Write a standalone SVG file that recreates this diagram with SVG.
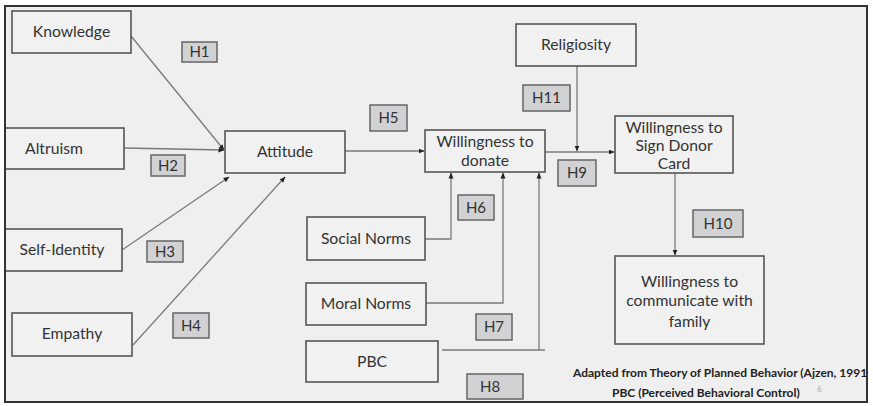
<svg xmlns="http://www.w3.org/2000/svg" width="873" height="406" viewBox="0 0 873 406">
<defs>
<style>
.bx{fill:#f1f1f1;stroke:#555;stroke-width:1.6}
.h{fill:#d2d2d4;stroke:#666;stroke-width:1.5}
.t{font-family:Lato,"Liberation Sans",sans-serif;font-size:15.7px;fill:#333;text-anchor:middle}
.ht{font-family:Lato,"Liberation Sans",sans-serif;font-size:15px;fill:#333;text-anchor:middle}
.ln{fill:none;stroke:#7a7a7a;stroke-width:1.3}
.ft{font-family:Lato,"Liberation Sans",sans-serif;font-size:12px;font-weight:bold;fill:#222}
</style>
<clipPath id="fr"><rect x="5" y="6" width="861" height="395"/></clipPath>
<marker id="ar" viewBox="0 0 6 6" refX="5.5" refY="3" markerWidth="6" markerHeight="6" orient="auto" markerUnits="userSpaceOnUse">
<path d="M0,0.5 L6,3 L0,5.5 Z" fill="#222"/>
</marker>
</defs>
<rect x="0" y="0" width="873" height="406" fill="#fff"/>
<rect x="5" y="6" width="862" height="396" fill="#efefef"/>

<g id="connectors">
<line class="ln" x1="131" y1="36" x2="224" y2="150" marker-end="url(#ar)"/>
<line class="ln" x1="124" y1="148" x2="224" y2="150" marker-end="url(#ar)"/>
<line class="ln" x1="122" y1="250" x2="229" y2="177" marker-end="url(#ar)"/>
<line class="ln" x1="133" y1="345" x2="285" y2="177" marker-end="url(#ar)"/>
<line class="ln" x1="345" y1="151" x2="424" y2="151" marker-end="url(#ar)"/>
<polyline class="ln" points="425,239 451,239 451,173" marker-end="url(#ar)"/>
<polyline class="ln" points="426,303 503,303 503,173" marker-end="url(#ar)"/>
<polyline class="ln" points="442,350 545,350"/>
<line class="ln" x1="539" y1="350" x2="539" y2="173" marker-end="url(#ar)"/>
<line class="ln" x1="545" y1="152" x2="614" y2="152" marker-end="url(#ar)"/>
<line class="ln" x1="577" y1="66" x2="577" y2="151" marker-end="url(#ar)"/>
<line class="ln" x1="675" y1="173" x2="675" y2="255" marker-end="url(#ar)"/>
</g>

<g id="knowledge"><rect class="bx" x="12" y="11" width="119" height="42"/><text class="t" x="71.5" y="37">Knowledge</text></g>
<g id="altruism"><rect class="bx" x="5" y="128" width="119" height="41"/><text class="t" x="54" y="154">Altruism</text></g>
<g id="self-identity"><rect class="bx" x="5" y="229" width="117" height="42"/><text class="t" x="62" y="255">Self-Identity</text></g>
<g id="empathy"><rect class="bx" x="12" y="313" width="120" height="43"/><text class="t" x="72" y="339">Empathy</text></g>
<g id="attitude"><rect class="bx" x="225" y="131" width="120" height="42"/><text class="t" x="285" y="157">Attitude</text></g>
<g id="willingness-donate"><rect class="bx" x="425" y="130" width="120" height="42"/><text class="t" x="485" y="147">Willingness to</text><text class="t" x="485" y="166">donate</text></g>
<g id="social-norms"><rect class="bx" x="307" y="217" width="118" height="43"/><text class="t" x="366" y="244">Social Norms</text></g>
<g id="moral-norms"><rect class="bx" x="306" y="283" width="120" height="42"/><text class="t" x="366" y="309">Moral Norms</text></g>
<g id="pbc"><rect class="bx" x="306" y="341" width="132" height="41"/><text class="t" x="372" y="367">PBC</text></g>
<g id="religiosity"><rect class="bx" x="516" y="24" width="120" height="42"/><text class="t" x="576" y="50">Religiosity</text></g>
<g id="willingness-sign"><rect class="bx" x="615" y="116" width="118" height="57"/><text class="t" x="674" y="133">Willingness to</text><text class="t" x="674" y="151">Sign Donor</text><text class="t" x="674" y="169">Card</text></g>
<g id="willingness-communicate"><rect class="bx" x="615" y="256" width="149" height="88"/><text class="t" x="689.5" y="287">Willingness to</text><text class="t" x="689.5" y="306">communicate with</text><text class="t" x="689.5" y="327">family</text></g>

<g id="h1"><rect class="h" x="182" y="42" width="35" height="20"/><text class="ht" x="199.5" y="57">H1</text></g>
<g id="h2"><rect class="h" x="151" y="155" width="34" height="21"/><text class="ht" x="168" y="170.5">H2</text></g>
<g id="h3"><rect class="h" x="147" y="241" width="36" height="21"/><text class="ht" x="165" y="256.5">H3</text></g>
<g id="h4"><rect class="h" x="173" y="313" width="36" height="25"/><text class="ht" x="191" y="330.5">H4</text></g>
<g id="h5"><rect class="h" x="370" y="105" width="37" height="26"/><text class="ht" x="388.5" y="123">H5</text></g>
<g id="h6"><rect class="h" x="458" y="195" width="36" height="25"/><text class="ht" x="476" y="212.5">H6</text></g>
<g id="h7"><rect class="h" x="476" y="314" width="36" height="26"/><text class="ht" x="494" y="332">H7</text></g>
<g id="h8"><rect class="h" x="467" y="374" width="56" height="25"/><text class="ht" x="480" y="392" style="text-anchor:start">H8</text></g>
<g id="h9"><rect class="h" x="558" y="160" width="38" height="26"/><text class="ht" x="577" y="178">H9</text></g>
<g id="h10"><rect class="h" x="693" y="210" width="50" height="27"/><text class="ht" x="718" y="228.5">H10</text></g>
<g id="h11"><rect class="h" x="523" y="85" width="47" height="26"/><text class="ht" x="546.5" y="103">H11</text></g>

<g id="footer" clip-path="url(#fr)">
<text class="ft" x="573" y="377">Adapted from Theory of Planned Behavior (Ajzen, 1991</text>
<text class="ft" x="612" y="397">PBC (Perceived Behavioral Control)</text>
<text x="817" y="392" style="font-family:Lato,'Liberation Sans',sans-serif;font-size:8px;fill:#aaa">6</text>
</g>
<rect x="5" y="6" width="862" height="396" fill="none" stroke="#333" stroke-width="2"/>
</svg>
